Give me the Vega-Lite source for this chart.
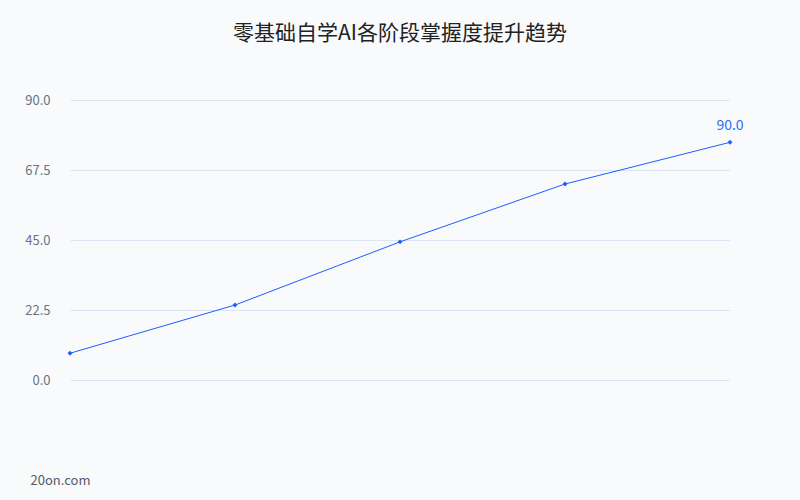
{
  "$schema": "https://vega.github.io/schema/vega-lite/v6.json",
  "autosize": "none",
  "width": 660,
  "height": 280,
  "padding": {"left": 70, "top": 100, "right": 70, "bottom": 120},
  "background": "#f8fafc",
  "title": {
    "text": "零基础自学AI各阶段掌握度提升趋势",
    "font": "Noto Sans CJK SC",
    "fontSize": 21,
    "fontWeight": "normal",
    "color": "#222222",
    "anchor": "middle",
    "offset": 50
  },
  "config": {
    "view": {"stroke": null},
    "font": "Noto Sans CJK SC"
  },
  "data": {
    "values": [
      {"stage": "阶段1", "score": 8.6, "label": ""},
      {"stage": "阶段2", "score": 24.1, "label": ""},
      {"stage": "阶段3", "score": 44.4, "label": ""},
      {"stage": "阶段4", "score": 63.0, "label": ""},
      {"stage": "阶段5", "score": 76.4, "label": "90.0"}
    ]
  },
  "encoding": {
    "x": {
      "field": "stage",
      "type": "ordinal",
      "sort": null,
      "scale": {"type": "point", "padding": 0},
      "axis": {
        "labels": false,
        "ticks": false,
        "domain": false,
        "grid": false,
        "title": "20on.com",
        "titleFont": "Noto Sans CJK SC",
        "titleFontSize": 13,
        "titleFontWeight": "normal",
        "titleColor": "#555b66",
        "titleAlign": "left",
        "titleAnchor": "start",
        "titleBaseline": "middle",
        "titleX": -40,
        "titleY": 100
      }
    },
    "y": {
      "field": "score",
      "type": "quantitative",
      "scale": {"domain": [0, 90], "nice": false},
      "axis": {
        "values": [0, 22.5, 45, 67.5, 90],
        "format": ".1f",
        "title": null,
        "ticks": false,
        "domain": false,
        "labelPadding": 20,
        "labelFontSize": 13,
        "labelColor": "#6b7280",
        "gridColor": "#dde4f4",
        "gridWidth": 1
      }
    }
  },
  "layer": [
    {
      "mark": {"type": "line", "color": "#1e5eff", "strokeWidth": 1}
    },
    {
      "mark": {"type": "point", "shape": "diamond", "filled": true, "size": 24, "color": "#1e5eff", "opacity": 1}
    },
    {
      "mark": {"type": "text", "dy": -16, "fontSize": 14, "color": "#2e6bff"},
      "encoding": {"text": {"field": "label"}}
    }
  ]
}
